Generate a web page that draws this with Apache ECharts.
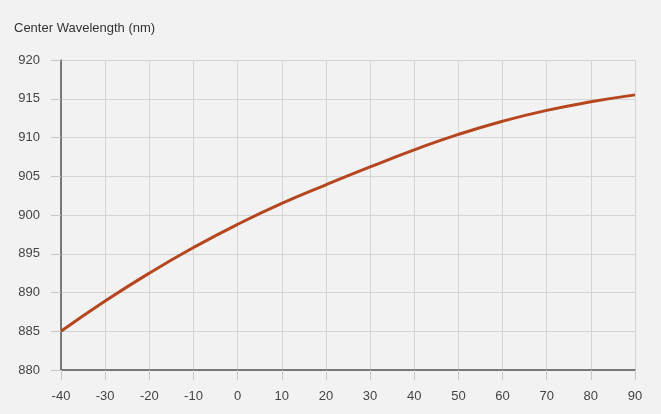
<!DOCTYPE html>
<html><head><meta charset="utf-8">
<script src="https://cdn.jsdelivr.net/npm/echarts@6/dist/echarts.min.js"></script>
<style>html,body{margin:0;padding:0;background:#f2f2f2;}#c{width:661px;height:414px;}</style>
</head><body><div id="c"></div>
<script>
const temps = [-40, -30, -20, -10, 0, 10, 20, 30, 40, 50, 60, 70, 80, 90];
const wavelength = [885, 888.9, 892.5, 895.8, 898.8, 901.5, 903.9, 906.2, 908.4, 910.4, 912.1, 913.5, 914.6, 915.5];
const yTicks = [880, 885, 890, 895, 900, 905, 910, 915, 920];
const titleText = 'Center Wavelength (nm)';

const chart = echarts.init(document.getElementById('c'));
chart.setOption({
  backgroundColor: '#f2f2f2',
  animation: false,
  title: { text: titleText, left: 9, top: 17, textStyle: { fontSize: 13, fontWeight: 'normal', color: '#333', fontFamily: 'Liberation Sans' } },
  grid: { left: 61, right: 26, top: 60, bottom: 44, containLabel: false },
  xAxis: {
    type: 'value', min: -40, max: 90, interval: 10,
    axisLine: { show: true, onZero: false, lineStyle: { color: '#555', width: 1.5 } },
    axisTick: { show: true, length: 10, lineStyle: { color: '#c8c8c8' } },
    axisLabel: { margin: 20, fontSize: 13, color: '#444', fontFamily: 'Liberation Sans' },
    splitLine: { show: true, lineStyle: { color: '#d4d4d4', width: 1 } }
  },
  yAxis: {
    type: 'value', min: yTicks[0], max: yTicks[yTicks.length - 1], interval: 5,
    axisLine: { show: true, onZero: false, lineStyle: { color: '#555', width: 1.5 } },
    axisTick: { show: true, length: 10, lineStyle: { color: '#c8c8c8' } },
    axisLabel: { margin: 21, fontSize: 13, color: '#444', fontFamily: 'Liberation Sans' },
    splitLine: { show: true, lineStyle: { color: '#d4d4d4', width: 1 } }
  },
  series: [{
    type: 'line', smooth: true, showSymbol: false,
    data: temps.map((t, i) => [t, wavelength[i]]),
    lineStyle: { color: '#b5461e', width: 3 }
  }]
});
</script></body></html>
